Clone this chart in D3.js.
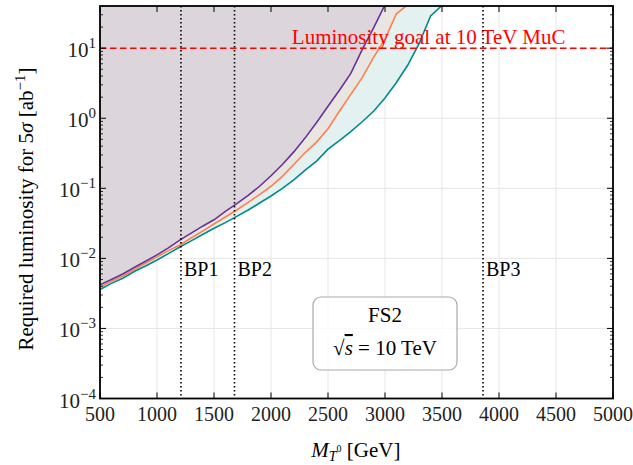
<!DOCTYPE html>
<html>
<head>
<meta charset="utf-8">
<script src="https://cdn.jsdelivr.net/npm/d3@7"></script>
<style>
  body { margin: 0; background: #fff; }
  text { font-family: "Liberation Serif", "DejaVu Serif", serif; }
</style>
</head>
<body>
<div id="chart"></div>
<script>
// masses (GeV)
var massA = [500,600,700,800,900,1000,1100,1200,1300,1400,1500,1600,1700,1800,1900,2000,
             2100,2200,2300,2400,2500,2600,2700,2800,2900,3000];
var massB = massA.concat([3100,3200]);
var massC = massA.concat([3100,3200,3300,3400,3500]);

// required luminosity (ab^-1)
var lumiPurple = [0.0042,0.0050,0.0060,0.0074,0.0091,0.0112,0.0141,0.0182,0.0229,0.0288,0.0355,
                  0.0468,0.0603,0.0794,0.107,0.151,0.219,0.331,0.525,0.871,1.48,2.51,4.37,9.55,19.5,41.7];
var lumiOrange = [0.0039,0.0047,0.0056,0.0069,0.0085,0.0105,0.0129,0.0155,0.0195,0.0245,0.0309,
                  0.0389,0.0490,0.0631,0.0813,0.107,0.148,0.219,0.324,0.457,0.708,1.26,2.19,3.80,7.41,13.5,30.9,41.7];
var lumiTeal = [0.0036,0.0044,0.0052,0.0065,0.0078,0.0095,0.0117,0.0145,0.0178,0.0219,0.0269,
                0.0324,0.0398,0.0490,0.0617,0.0776,0.100,0.132,0.182,0.245,0.363,0.479,0.646,0.891,1.26,1.95,
                3.24,5.75,11.7,28.8,40.7];

var benchmarks = [{name: "BP1", m: 1210}, {name: "BP2", m: 1680}, {name: "BP3", m: 3860}];
var lumiGoal = 10;
var xTicks = [500,1000,1500,2000,2500,3000,3500,4000,4500,5000];
var yExps = [-4,-3,-2,-1,0,1];

var margin = {top: 6, left: 100},
  width = 613 - margin.left,
  height = 398.5 - margin.top;

var svg = d3.select("#chart")
  .append("svg")
    .attr("width", 633)
    .attr("height", 465)
  .append("g")
    .attr("transform", "translate(" + margin.left + "," + margin.top + ")");

var x = d3.scaleLinear().domain([500, 5000]).range([0, width]);
var y = d3.scaleLog().domain([1e-4, 40]).range([height, 0]);

svg.append("defs").append("clipPath").attr("id", "clip")
  .append("rect").attr("width", width).attr("height", height);

// grid
svg.append("g").selectAll("line").data(xTicks).join("line")
  .attr("x1", d => x(d)).attr("x2", d => x(d))
  .attr("y1", 0).attr("y2", height)
  .attr("stroke", "#e6e6e6").attr("stroke-width", 1);
svg.append("g").selectAll("line").data(yExps).join("line")
  .attr("x1", 0).attr("x2", width)
  .attr("y1", d => y(Math.pow(10, d))).attr("y2", d => y(Math.pow(10, d)))
  .attr("stroke", "#e6e6e6").attr("stroke-width", 1);

// shaded regions (above each curve) and the curves
var series = [
  {m: massC, v: lumiTeal, fill: "#e3f2f1", stroke: "#008b8b"},
  {m: massB, v: lumiOrange, fill: "#e9e6e2", stroke: "#ff7f50"},
  {m: massA, v: lumiPurple, fill: "#dcd5dc", stroke: "#663399"}
];
var plot = svg.append("g").attr("clip-path", "url(#clip)");
series.forEach(function(s) {
  var pts = s.m.map((m, i) => [m, s.v[i]]);
  plot.append("path").datum(pts)
    .attr("fill", s.fill)
    .attr("d", d3.area().x(d => x(d[0])).y0(-10).y1(d => y(d[1])));
});
series.forEach(function(s) {
  var pts = s.m.map((m, i) => [m, s.v[i]]);
  plot.append("path").datum(pts)
    .attr("fill", "none")
    .attr("stroke", s.stroke)
    .attr("stroke-width", 1.6)
    .attr("d", d3.line().x(d => x(d[0])).y(d => y(d[1])));
});

// luminosity goal
svg.append("line")
  .attr("x1", 0).attr("x2", width)
  .attr("y1", y(lumiGoal)).attr("y2", y(lumiGoal))
  .attr("stroke", "#ff0000").attr("stroke-width", 1.6)
  .attr("stroke-dasharray", "6.5,3.5");
svg.append("text")
  .attr("x", x(3383)).attr("y", y(lumiGoal) - 4)
  .attr("text-anchor", "middle")
  .attr("fill", "#ff0000")
  .attr("font-size", 21)
  .text("Luminosity goal at 10 TeV MuC");

// benchmark points
svg.append("g").selectAll("line").data(benchmarks).join("line")
  .attr("x1", d => x(d.m)).attr("x2", d => x(d.m))
  .attr("y1", 0).attr("y2", height)
  .attr("stroke", "#000").attr("stroke-width", 1.6)
  .attr("stroke-dasharray", "1.6,2.4");
svg.append("g").selectAll("text").data(benchmarks).join("text")
  .attr("x", d => x(d.m) + 3).attr("y", 270)
  .attr("font-size", 20)
  .text(d => d.name);

// info box
var box = svg.append("g").attr("transform", "translate(" + x(3000) + "," + 291 + ")");
box.append("rect")
  .attr("x", -72).attr("y", 0).attr("width", 144).attr("height", 73)
  .attr("rx", 8).attr("fill", "#fff").attr("fill-opacity", 0.8)
  .attr("stroke", "#aaaaaa").attr("stroke-width", 1.2);
box.append("text").attr("text-anchor", "middle").attr("y", 25)
  .attr("font-size", 21).text("FS2");
var sq = box.append("text").attr("text-anchor", "middle").attr("y", 58).attr("font-size", 21);
sq.append("tspan").text("\u221A");
sq.append("tspan").attr("font-style", "italic").attr("text-decoration", "overline").text("s");
sq.append("tspan").text(" = 10 TeV");

// ticks (inward, all sides)
var tk = svg.append("g").attr("stroke", "#000");
xTicks.forEach(function(t) {
  tk.append("line").attr("x1", x(t)).attr("x2", x(t)).attr("y1", height).attr("y2", height - 6);
  tk.append("line").attr("x1", x(t)).attr("x2", x(t)).attr("y1", 0).attr("y2", 6);
});
yExps.forEach(function(e) {
  var v = Math.pow(10, e);
  tk.append("line").attr("x1", 0).attr("x2", 6).attr("y1", y(v)).attr("y2", y(v));
  tk.append("line").attr("x1", width).attr("x2", width - 6).attr("y1", y(v)).attr("y2", y(v));
  for (var k = 2; k < 10; k++) {
    var mv = k * v;
    if (mv > 40) break;
    tk.append("line").attr("x1", 0).attr("x2", 3).attr("y1", y(mv)).attr("y2", y(mv)).attr("stroke-width", 0.8);
    tk.append("line").attr("x1", width).attr("x2", width - 3).attr("y1", y(mv)).attr("y2", y(mv)).attr("stroke-width", 0.8);
  }
});

// tick labels
svg.append("g").selectAll("text").data(xTicks).join("text")
  .attr("x", d => x(d)).attr("y", height + 22)
  .attr("text-anchor", "middle").attr("font-size", 20)
  .attr("fill", "#222")
  .text(d => d);
var yl = svg.append("g").selectAll("text").data(yExps).join("text")
  .attr("x", -4).attr("y", d => y(Math.pow(10, d)) + 9)
  .attr("text-anchor", "end").attr("font-size", 21).attr("fill", "#222");
yl.append("tspan").text("10");
yl.append("tspan").attr("dy", -9).attr("font-size", 15)
  .text(d => d < 0 ? "\u2212" + (-d) : d);

// frame
svg.append("rect").attr("width", width).attr("height", height)
  .attr("fill", "none").attr("stroke", "#000").attr("stroke-width", 1.8);

// axis titles
var xt = svg.append("text").attr("x", x(2744)).attr("y", height + 58)
  .attr("text-anchor", "middle").attr("font-size", 21);
xt.append("tspan").attr("font-style", "italic").text("M");
xt.append("tspan").attr("font-style", "italic").attr("font-size", 14).attr("dy", 4).text("T");
xt.append("tspan").attr("font-size", 10).attr("dy", -9).text("0");
xt.append("tspan").attr("dy", 5).text(" [GeV]");

var yt = svg.append("text")
  .attr("transform", "translate(" + (-67) + "," + 203 + ") rotate(-90)")
  .attr("text-anchor", "middle").attr("font-size", 21);
yt.append("tspan").text("Required luminosity for 5");
yt.append("tspan").attr("font-style", "italic").text("\u03C3");
yt.append("tspan").text(" [ab");
yt.append("tspan").attr("font-size", 15).attr("dy", -8).text("\u22121");
yt.append("tspan").attr("dy", 8).text("]");
</script>
</body>
</html>
